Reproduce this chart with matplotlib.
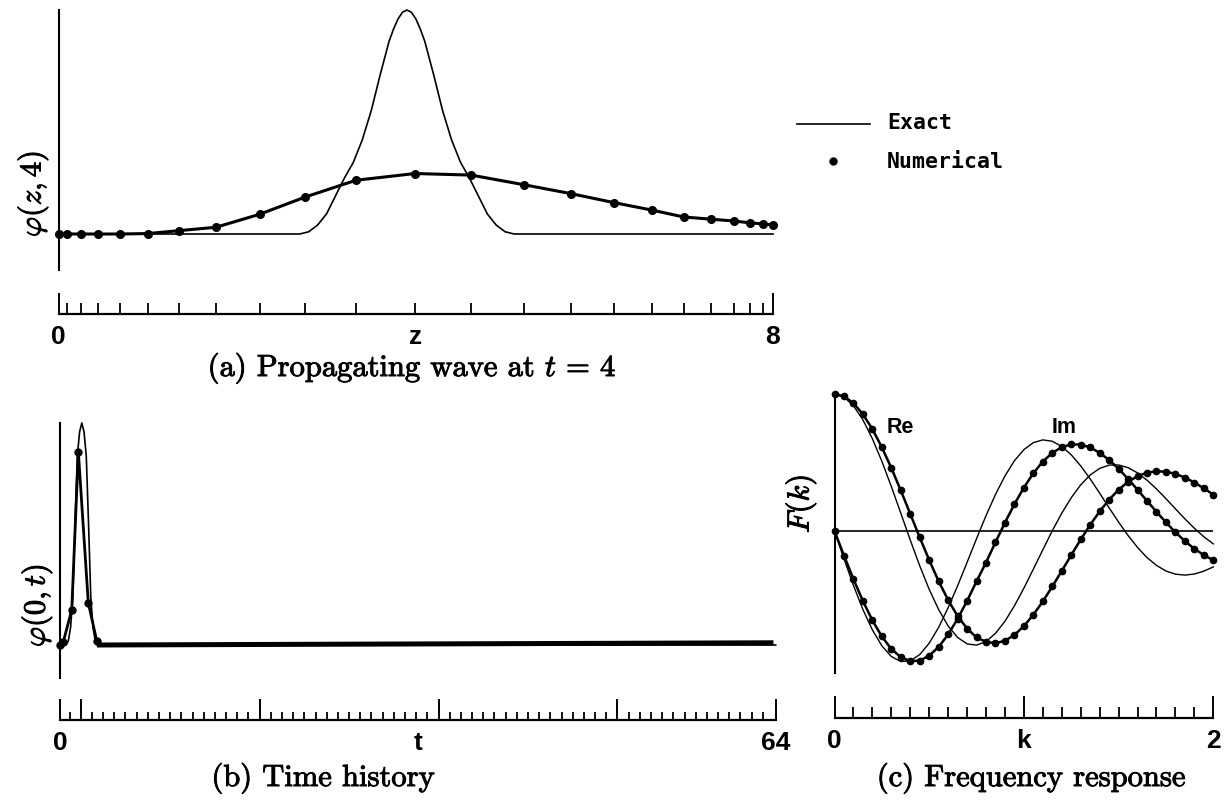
import numpy as np
import matplotlib.pyplot as plt
import matplotlib.patheffects as pe
from matplotlib.lines import Line2D

plt.rcParams['mathtext.fontset'] = 'cm'
plt.rcParams['axes.unicode_minus'] = False

W, H = 1229, 801

# ---------------- (a) wave at t = 4 on the stretched grid
z_grid = [0.0, 0.09, 0.25, 0.44, 0.69, 1.0, 1.35, 1.76, 2.25, 2.76, 3.33, 3.99,
          4.62, 5.21, 5.74, 6.22, 6.64, 7.0, 7.31, 7.56, 7.74, 7.89, 8.0]
phi_num_a = [0.0, 0.0, 0.0, 0.0, 0.0, 0.002, 0.015, 0.03, 0.088, 0.165, 0.24, 0.27,
             0.263, 0.22, 0.18, 0.14, 0.107, 0.076, 0.066, 0.058, 0.05, 0.045, 0.04]
z_exact = [0.0, 2.7, 2.8, 2.9, 3.0, 3.1, 3.2, 3.3, 3.4, 3.5, 3.6, 3.7, 3.75, 3.8, 3.85,
           3.9, 3.95, 4.0, 4.05, 4.1, 4.2, 4.3, 4.4, 4.5, 4.6, 4.7, 4.8, 4.9, 5.0, 5.1, 8.0]
phi_exact_a = [0.0, 0.0, 0.01, 0.04, 0.09, 0.17, 0.25, 0.32, 0.42, 0.55, 0.71, 0.86, 0.915,
               0.96, 0.99, 1.0, 0.99, 0.96, 0.915, 0.86, 0.71, 0.55, 0.42, 0.32, 0.25,
               0.17, 0.09, 0.04, 0.01, 0.0, 0.0]

# ---------------- (b) time history at z = 0
t_exact = [0.0, 0.55, 0.75, 0.95, 1.15, 1.35, 1.55, 1.75, 1.95, 2.15, 2.35, 2.55,
           2.75, 2.95, 3.15, 3.35, 64.0]
phi_exact_b = [0.0, 0.0, 0.02, 0.08, 0.22, 0.55, 0.85, 0.96, 1.0, 0.96, 0.85, 0.55,
               0.22, 0.08, 0.02, 0.0, 0.0]
t_num = [0.0, 0.3, 1.05, 1.64, 2.53, 3.28]
phi_num_b = [0.0, 0.015, 0.158, 0.87, 0.19, 0.02]
t_band = [3.3, 63.8]
phi_band = [0.0, 0.01]
t_ticks = np.arange(0.85, 63.0, 1.0)
t_long = [0.0, 1.85, 17.85, 33.85, 49.85, 64.0]

# ---------------- (c) frequency response
k = [0.0, 0.05, 0.1, 0.15, 0.2, 0.25, 0.3, 0.35, 0.4, 0.45, 0.5, 0.55, 0.6, 0.65,
     0.7, 0.75, 0.8, 0.85, 0.9, 0.95, 1.0, 1.05, 1.1, 1.15, 1.2, 1.25, 1.3, 1.35,
     1.4, 1.45, 1.5, 1.55, 1.6, 1.65, 1.7, 1.75, 1.8, 1.85, 1.9, 1.95, 2.0]
re_exact = [1.000, 0.978, 0.914, 0.811, 0.674, 0.509, 0.325, 0.130, -0.066, -0.254,
            -0.426, -0.574, -0.693, -0.777, -0.824, -0.833, -0.807, -0.747, -0.659,
            -0.546, -0.417, -0.278, -0.137, 0.002, 0.130, 0.243, 0.337, 0.409, 0.457,
            0.481, 0.482, 0.462, 0.424, 0.371, 0.307, 0.236, 0.162, 0.089, 0.020,
            -0.042, -0.094]
im_exact = [0.000, -0.203, -0.397, -0.573, -0.722, -0.838, -0.916, -0.953, -0.948,
            -0.902, -0.819, -0.703, -0.560, -0.400, -0.229, -0.056, 0.112, 0.267,
            0.402, 0.513, 0.594, 0.645, 0.665, 0.655, 0.617, 0.556, 0.475, 0.380,
            0.276, 0.169, 0.065, -0.033, -0.120, -0.194, -0.251, -0.292, -0.315,
            -0.322, -0.314, -0.293, -0.262]
re_num = [1.000, 0.983, 0.933, 0.852, 0.744, 0.611, 0.460, 0.296, 0.125, -0.047,
          -0.212, -0.367, -0.504, -0.621, -0.712, -0.777, -0.809, -0.819, -0.801,
          -0.759, -0.694, -0.611, -0.514, -0.405, -0.291, -0.176, -0.062, 0.045,
          0.143, 0.229, 0.301, 0.359, 0.400, 0.426, 0.436, 0.433, 0.417, 0.390,
          0.354, 0.312, 0.265]
im_num = [0.000, -0.179, -0.351, -0.511, -0.652, -0.770, -0.861, -0.921, -0.950,
          -0.946, -0.910, -0.846, -0.755, -0.641, -0.510, -0.367, -0.230, -0.082,
          0.061, 0.196, 0.317, 0.422, 0.507, 0.570, 0.612, 0.632, 0.631, 0.610,
          0.571, 0.518, 0.454, 0.380, 0.301, 0.220, 0.140, 0.063, -0.009, -0.074,
          -0.130, -0.176, -0.213]

fig = plt.figure(figsize=(W / 100, H / 100), dpi=100)

# heavier strokes on the serif/math text
THICK = [pe.withStroke(linewidth=0.7, foreground='k')]
LABEL = dict(family='Liberation Sans', weight='bold', fontsize=19)


def px_axes(x0, y0, x1, y1):
    # axes box given in pixel coordinates measured from the top-left corner
    return fig.add_axes([x0 / W, 1 - y1 / H, (x1 - x0) / W, (y1 - y0) / H])


def ftext(x, y, s, **kw):
    return fig.text(x / W, 1 - y / H, s, **kw)


def panel(x0, y0, x1, y1, xlim, ylim):
    ax = px_axes(x0, y0, x1, y1)
    for s in ['top', 'right', 'bottom']:
        ax.spines[s].set_visible(False)
    ax.spines['left'].set_linewidth(1.5)
    ax.tick_params(left=False, bottom=False, labelleft=False, labelbottom=False)
    ax.set_xlim(*xlim)
    ax.set_ylim(*ylim)
    ax.patch.set_alpha(0)
    return ax


def ruler(x0, x1, yline, xlim, major, minor, major_len, minor_len, labels):
    ax = px_axes(x0, yline - 30, x1, yline)
    for s in ['top', 'right', 'left']:
        ax.spines[s].set_visible(False)
    ax.spines['bottom'].set_linewidth(1.6)
    ax.set_xlim(*xlim)
    ax.set_yticks([])
    ax.set_xticks(major)
    ax.set_xticks(minor, minor=True)
    ax.tick_params(axis='x', which='major', direction='in', length=major_len,
                   width=1.4, labelbottom=False)
    ax.tick_params(axis='x', which='minor', direction='in', length=minor_len, width=1.3)
    ax.patch.set_alpha(0)
    for xv, s in labels:
        ax.annotate(s, xy=(xv, 0), xycoords=('data', 'axes fraction'),
                    xytext=(0, -30), textcoords='offset pixels',
                    ha='center', va='baseline', **LABEL)
    return ax


# ---- (a)
ax_a = panel(58.7, 10, 773, 270, (0, 8), (-36 / 224, 1.0))
ax_a.plot(z_exact, phi_exact_a, color='k', lw=1.2, clip_on=False)
ax_a.plot(z_grid, phi_num_a, color='k', lw=2.2, marker='o', ms=5.5, clip_on=False)
ruler(58.7, 773, 314, (0, 8), [0, 8], z_grid[1:-1], 15, 8,
      [(0, '0'), (4, 'z'), (8, '8')])

# ---- (b)
ax_b = panel(60, 423, 775.7, 678, (0, 64), (-33 / 222, 1.0))
ax_b.plot(t_exact, phi_exact_b, color='k', lw=1.2, clip_on=False)
ax_b.plot(t_band, phi_band, color='k', lw=3.6, solid_capstyle='butt')
ax_b.plot(t_num, phi_num_b, color='k', lw=2.0, marker='o', ms=5, clip_on=False)
ruler(60, 775.7, 720, (0, 64), t_long,
      [v for v in t_ticks if not np.isclose(v, t_long).any()], 15, 6,
      [(0, '0'), (32, 't'), (64, '64')])

# ---- (c)
ax_c = panel(834.5, 394, 1213.3, 673, (0, 2), (-142 / 137, 1.0))
ax_c.axhline(0, color='k', lw=1.2)
ax_c.plot(k, re_exact, color='k', lw=1.0, clip_on=False)
ax_c.plot(k, im_exact, color='k', lw=1.0, clip_on=False)
ax_c.plot(k, re_num, color='k', lw=1.8, marker='o', ms=4.5, clip_on=False)
ax_c.plot(k, im_num, color='k', lw=1.8, marker='o', ms=4.5, clip_on=False)
ruler(834.5, 1213.3, 718, (0, 2), [0, 1, 2],
      [v for v in k[2:-1:2] if v != 1.0], 15.5, 8,
      [(0, '0'), (1, 'k'), (2, '2')])
ftext(887, 433, 'Re', family='Liberation Sans', weight='bold', fontsize=15.5, va='baseline')
ftext(1052, 433, 'Im', family='Liberation Sans', weight='bold', fontsize=15.5, va='baseline')

# ---- axis names
ylab = dict(rotation=90, rotation_mode='anchor', ha='left', va='center', fontsize=22,
            path_effects=THICK)
ftext(33, 237, r'$\varphi(z,4)$', **ylab)
ftext(37, 647, r'$\varphi(0,t)$', **ylab)
ftext(801, 533, r'$F(k)$', **ylab)

# ---- key
fig.add_artist(Line2D([797 / W, 870 / W], [1 - 124 / H, 1 - 124 / H],
                      transform=fig.transFigure, color='k', lw=1.2))
fig.add_artist(Line2D([833 / W], [1 - 161 / H], transform=fig.transFigure,
                      color='k', marker='o', ms=5, ls='none'))
KEY = dict(family='DejaVu Sans Mono', weight='bold', fontsize=15.5, va='baseline')
ftext(887, 129, 'Exact', **KEY)
ftext(887, 168, 'Numerical', **KEY)

# ---- captions
CAP = dict(family='cmr10', fontsize=22, ha='center', va='baseline', path_effects=THICK)
ftext(412, 376, r'(a) Propagating wave at $t$ = 4', **CAP)
ftext(323, 786, '(b) Time history', **CAP)
ftext(1031, 786, '(c) Frequency response', **CAP)

fig.savefig('out.png', dpi=100)
